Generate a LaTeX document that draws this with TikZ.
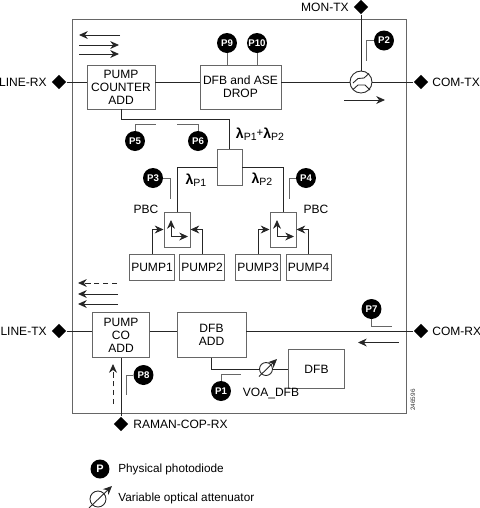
\documentclass[tikz,border=0pt]{standalone}
\usepackage{fontspec}
\setmainfont{Liberation Sans}
\usetikzlibrary{shapes.geometric,arrows.meta}
\newcommand{\lampump}[1]{{\fontsize{8}{8}\selectfont\bfseries λ}{\fontsize{6}{6}\selectfont\raisebox{-1.2pt}{P#1}}}
\tikzset{
  lbl/.style={font=\fontsize{6.85}{7.4}\selectfont,inner sep=0pt,align=center},
  port/.style={diamond,fill=black,draw=none,inner sep=0pt,minimum size=0.29cm},
  blockbox/.style={rectangle,draw=black!60,line width=0.55pt,fill=white,inner sep=0pt,font=\fontsize{6.85}{7.4}\selectfont,align=center},
  pdiode/.style={circle,fill=black,inner sep=0pt,minimum size=0.4cm,text=white,font=\fontsize{5.5}{6}\selectfont\bfseries},
  lead/.style={black!60,line width=0.45pt},
  fibre/.style={black!85,line width=0.5pt},
  flow/.style={black!85,line width=0.5pt,-{Stealth[length=5pt,width=4.5pt]}},
  flowdash/.style={flow,densely dashed}
}
\begin{document}
\begin{tikzpicture}[x=0.02cm,y=-0.02cm]
  \useasboundingbox (0,0) rectangle (480,508);
  \draw[black!60,line width=0.55pt] (72,19) rectangle (406,413);

  % ports
  \node[port] (linerx) at (59,82) {};
  \node[lbl,anchor=east] (linerxlbl) at (47,82) {LINE-RX};
  \node[port] (montx) at (361,7) {};
  \node[lbl,anchor=east] (montxlbl) at (349,7) {MON-TX};
  \node[port] (comtx) at (421,82) {};
  \node[lbl,anchor=west] (comtxlbl) at (432,82) {COM-TX};
  \node[port] (linetx) at (59,331) {};
  \node[lbl,anchor=east] (linetxlbl) at (47,331) {LINE-TX};
  \node[port] (comrx) at (421,331) {};
  \node[lbl,anchor=west] (comrxlbl) at (432,331) {COM-RX};
  \node[port] (raman) at (121,424) {};
  \node[lbl,anchor=west] (ramanlbl) at (133,424) {RAMAN-COP-RX};

  % blocks
  \node[blockbox,minimum width=68*0.02cm,minimum height=44*0.02cm] (pumpcounter) at (121,87) {PUMP\\COUNTER\\ADD};
  \node[blockbox,minimum width=81*0.02cm,minimum height=44*0.02cm] (dfbdrop) at (240.5,87) {DFB and ASE\\DROP};
  \node[blockbox,minimum width=25*0.02cm,minimum height=36*0.02cm] (splitter) at (229.5,167) {};
  \node[blockbox,minimum width=26*0.02cm,minimum height=35*0.02cm] (pbcone) at (177,229.5) {};
  \node[blockbox,minimum width=26*0.02cm,minimum height=35*0.02cm] (pbctwo) at (283,229.5) {};
  \node[blockbox,minimum width=45*0.02cm,minimum height=25.5*0.02cm] (pumpone) at (152,267.7) {PUMP1};
  \node[blockbox,minimum width=45*0.02cm,minimum height=25.5*0.02cm] (pumptwo) at (202.2,267.7) {PUMP2};
  \node[blockbox,minimum width=45*0.02cm,minimum height=25.5*0.02cm] (pumpthree) at (258,267.7) {PUMP3};
  \node[blockbox,minimum width=45*0.02cm,minimum height=25.5*0.02cm] (pumpfour) at (308.7,267.7) {PUMP4};
  \node[blockbox,minimum width=57*0.02cm,minimum height=44.5*0.02cm] (pumpco) at (121,335.2) {PUMP\\CO\\ADD};
  \node[blockbox,minimum width=69*0.02cm,minimum height=44.5*0.02cm] (dfbadd) at (211.5,335.2) {DFB\\ADD};
  \node[blockbox,minimum width=56*0.02cm,minimum height=38.5*0.02cm] (dfb) at (316.5,369.2) {DFB};
  \node[circle,draw=black!85,line width=0.5pt,fill=white,inner sep=0pt,minimum size=0.44cm] (coupler) at (361,82) {};
  \node[circle,draw=black!85,line width=0.5pt,fill=white,inner sep=0pt,minimum size=0.26cm] (voa) at (266,369) {};

  % connectors
  \draw[fibre] (linerx) -- (pumpcounter.west |- linerx);
  \draw[fibre] (pumpcounter.east |- linerx) -- (dfbdrop.west |- linerx);
  \draw[fibre] (dfbdrop.east |- coupler) -- (coupler.west);
  \draw[fibre] (coupler.east) -- (comtx);
  \draw[fibre] (montx) -- (coupler.north);
  \draw[fibre] (pumpcounter.south) |- (splitter.north |- 0,119) -- (splitter.north);
  \draw[fibre] (splitter.west) -| (pbcone.north);
  \draw[fibre] (splitter.east) -| (pbctwo.north);
  \draw[flow] (pumpone.north) |- (pbcone.west);
  \draw[flow] (pumptwo.north) |- (pbcone.east);
  \draw[flow] (pumpthree.north) |- (pbctwo.west);
  \draw[flow] (pumpfour.north) |- (pbctwo.east);
  \draw[fibre] (linetx) -- (pumpco.west |- linetx);
  \draw[fibre] (pumpco.east |- linetx) -- (dfbadd.west |- linetx);
  \draw[fibre] (dfbadd.east |- comrx) -- (comrx);
  \draw[fibre] (raman) -- (pumpco.south);
  \draw[fibre] (dfbadd.south) |- (voa.west);
  \draw[fibre] (voa.east) -- (dfb.west |- voa);

  % coupler inside
  \draw[fibre] (353,83) -- (358,78.5) -- (364,78) -- (369,73.5);
  \draw[fibre] (353,89.5) -- (358,85) -- (365,85) -- (370,90);

  % photodiodes with their leads
  \node[pdiode] (ptwo) at (384,40.5) {P2};
  \draw[lead] (ptwo.west) -| (366.5,61);
  \node[pdiode] (pnine) at (227,43) {P9};
  \draw[lead] (pnine.south) -- (pnine |- dfbdrop.north);
  \node[pdiode] (pten) at (257,43) {P10};
  \draw[lead] (pten.south) -- (pten |- dfbdrop.north);
  \node[pdiode] (pfive) at (135,141) {P5};
  \draw[lead] (pfive.north) |- (155.5,124.5);
  \node[pdiode] (psix) at (198,141) {P6};
  \draw[lead] (psix.north) |- (177,124.5);
  \node[pdiode] (pthree) at (153,178) {P3};
  \draw[lead] (pthree.east) -| (170.5,199);
  \node[pdiode] (pfour) at (306,178) {P4};
  \draw[lead] (pfour.west) -| (289,199);
  \node[pdiode] (pseven) at (371.5,309) {P7};
  \draw[lead] (pseven.south) |- (391.5,326);
  \node[pdiode] (peight) at (143.5,375) {P8};
  \draw[lead] (peight.west) -| (126.5,395);
  \node[pdiode] (pone) at (221,391) {P1};
  \draw[lead] (pone.north) |- (241,374);

  % direction arrows
  \draw[flow] (120,35) -- (79,35);
  \draw[flow] (79,45) -- (119,45);
  \draw[flow] (79,54) -- (119,54);
  \draw[flow] (344,100) -- (385,100);
  \draw[flowdash] (117,283) -- (78,283);
  \draw[flow] (118,294) -- (78,294);
  \draw[flow] (118,304) -- (78,304);
  \draw[flowdash] (113,404) -- (113,364);
  \draw[flow] (398.5,342.5) -- (358,342.5);

  % PBC axes
  \draw[flow] (171,236.5) -- (171,220);
  \draw[flow] (171,236.5) -- (188,236.5);
  \draw[flow] (277,236.5) -- (277,220);
  \draw[flow] (277,236.5) -- (294,236.5);

  % VOA slash
  \draw[flow] (259,376.5) -- (277,359);

  % labels
  \node[lbl] (lamboth) at (260,134) {\lampump{1}{\fontsize{6.5}{7}\selectfont\raisebox{1pt}{+}}\lampump{2}};
  \node[lbl] (lamone) at (196,180) {\lampump{1}};
  \node[lbl] (lamtwo) at (262,179) {\lampump{2}};
  \node[lbl] (pbconelbl) at (146,209) {PBC};
  \node[lbl] (pbctwolbl) at (316,209) {PBC};
  \node[lbl] (voalbl) at (271,393.5) {VOA\_DFB};
  \node[font=\fontsize{3.6}{4}\selectfont,rotate=90,inner sep=0pt,black!80] (figid) at (413,400) {246596};

  % legend
  \node[pdiode,minimum size=0.38cm,font=\fontsize{6.2}{6}\selectfont\bfseries] (plegend) at (100,469) {P};
  \node[lbl,anchor=west,font=\fontsize{6.7}{8}\selectfont] (plegendlbl) at (118,469) {Physical photodiode};
  \node[circle,draw=black!85,line width=0.5pt,inner sep=0pt,minimum size=0.32cm] (voalegend) at (98,499) {};
  \draw[flow] (89,508) -- (112,486);
  \node[lbl,anchor=west,font=\fontsize{6.7}{8}\selectfont] (voalegendlbl) at (118,498) {Variable optical attenuator};
\end{tikzpicture}
\end{document}
